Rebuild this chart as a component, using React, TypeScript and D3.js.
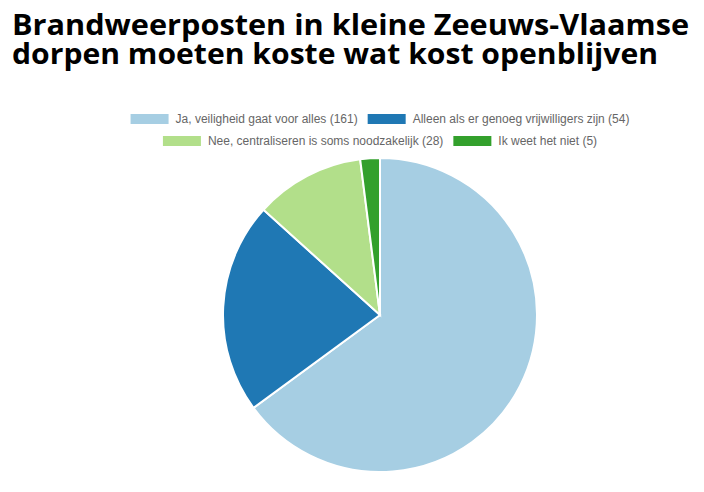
import React from "react";
import * as d3 from "d3";

const labels = [
  "Ja, veiligheid gaat voor alles (161)",
  "Alleen als er genoeg vrijwilligers zijn (54)",
  "Nee, centraliseren is soms noodzakelijk (28)",
  "Ik weet het niet (5)",
];
const values = [161, 54, 28, 5];
const colors = ["#a6cee3", "#1f78b4", "#b2df8a", "#33a02c"];
const legendRows = [[0, 1], [2, 3]];
const titleLines = [
  "Brandweerposten in kleine Zeeuws-Vlaamse",
  "dorpen moeten koste wat kost openblijven",
];

const W = 704;
const H = 492;
const cx = 380;
const cy = 315;
const radius = 157;
const legendFont = "12px 'Liberation Sans', Arial, sans-serif";
const boxW = 38;
const boxH = 10;
const boxGap = 7;
const itemGap = 10;

let ctx: CanvasRenderingContext2D | null = null;
function measure(t: string): number {
  if (!ctx) ctx = document.createElement("canvas").getContext("2d");
  if (!ctx) return t.length * 6;
  ctx.font = legendFont;
  return ctx.measureText(t).width;
}

export default function App() {
  const pie = d3.pie<number>().sort(null).value((d) => d);
  const arcs = pie(values);
  const arc = d3.arc<d3.PieArcDatum<number>>().innerRadius(0).outerRadius(radius);

  const rowY = [119, 141];

  return (
    <svg width={W} height={H} style={{ position: "absolute", left: 0, top: 0, background: "#fff" }}>
      {titleLines.map((t, i) => (
        <text
          key={i}
          x={12}
          y={34.5 + i * 29}
          fontFamily="'Open Sans', sans-serif"
          fontWeight={700}
          fontSize={29}
          fill="#000"
          textLength={i === 0 ? 677 : 646}
          lengthAdjust="spacingAndGlyphs"
        >
          {t}
        </text>
      ))}

      {legendRows.map((row, ri) => {
        const widths = row.map((i) => boxW + boxGap + measure(labels[i]));
        const total = d3.sum(widths) + itemGap * (row.length - 1);
        let x = cx - total / 2;
        return (
          <g key={ri}>
            {row.map((idx, k) => {
              const x0 = x;
              x += widths[k] + itemGap;
              return (
                <g key={idx}>
                  <rect x={x0} y={rowY[ri] - boxH / 2} width={boxW} height={boxH} fill={colors[idx]} />
                  <text
                    x={x0 + boxW + boxGap}
                    y={rowY[ri]}
                    dy="0.35em"
                    style={{ font: legendFont }}
                    fill="#666"
                  >
                    {labels[idx]}
                  </text>
                </g>
              );
            })}
          </g>
        );
      })}

      <g transform={`translate(${cx},${cy})`}>
        {arcs.map((a, i) => (
          <path key={i} d={arc(a) ?? ""} fill={colors[i]} stroke="#fff" strokeWidth={2} />
        ))}
      </g>
    </svg>
  );
}
